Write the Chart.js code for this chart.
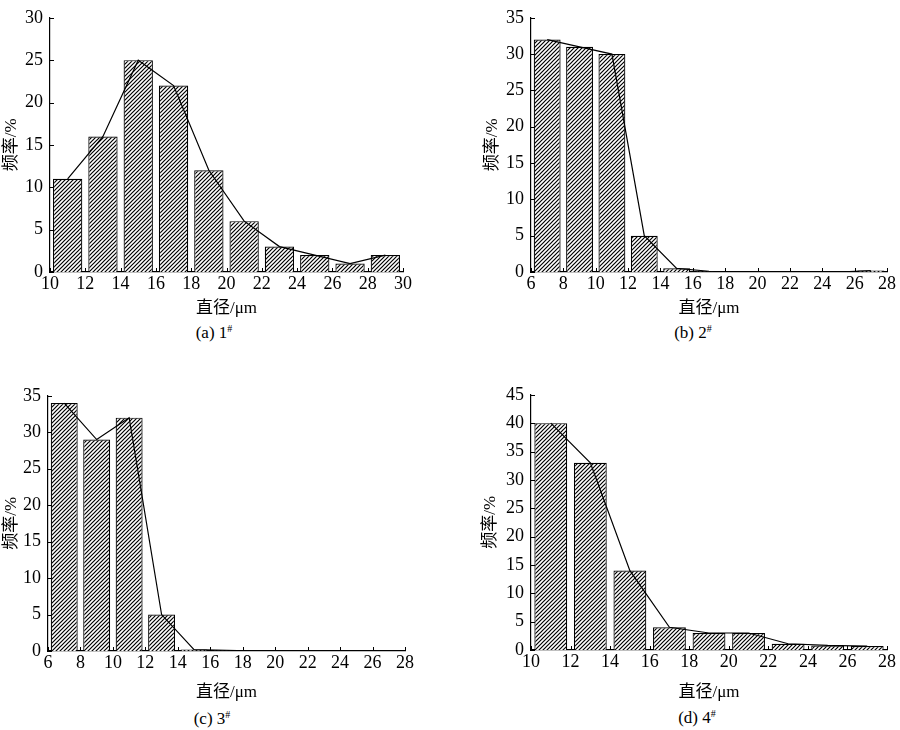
<!DOCTYPE html>
<html>
<head>
<meta charset="utf-8">
<script src="https://cdn.jsdelivr.net/npm/chart.js@4.4.1/dist/chart.umd.min.js"></script>
<style>
  body { margin: 0; width: 900px; height: 730px; overflow: hidden; background: #fff; position: relative; }
  canvas { position: absolute; }
  .cap { position: absolute; font: 17px "Liberation Serif", "Noto Sans CJK SC", serif; color: #000; transform: translate(-50%, -50%); white-space: nowrap; }
  .cap sup { font-size: 10px; vertical-align: 6px; line-height: 0; }
</style>
</head>
<body>
<canvas id="chartA"></canvas>
<canvas id="chartB"></canvas>
<canvas id="chartC"></canvas>
<canvas id="chartD"></canvas>
<div class="cap" style="left:214px; top:333px">(a) 1<sup>#</sup></div>
<div class="cap" style="left:693px; top:333px">(b) 2<sup>#</sup></div>
<div class="cap" style="left:212px; top:719px">(c) 3<sup>#</sup></div>
<div class="cap" style="left:697px; top:718px">(d) 4<sup>#</sup></div>
<script>
// bin centres (μm), frequencies (%), axis ticks
const diamA = [11, 13, 15, 17, 19, 21, 23, 25, 27, 29];
const freqA = [11, 16, 25, 22, 12, 6, 3, 2, 1, 2];
const xTicksA = [10, 12, 14, 16, 18, 20, 22, 24, 26, 28, 30];
const yTicksA = [0, 5, 10, 15, 20, 25, 30];

const diamB = [7, 9, 11, 13, 15, 17, 19, 21, 23, 25, 27];
const freqB = [32, 31, 30, 5, 0.5, 0.1, 0, 0, 0, 0, 0.2];
const xTicksB = [6, 8, 10, 12, 14, 16, 18, 20, 22, 24, 26, 28];
const yTicksB = [0, 5, 10, 15, 20, 25, 30, 35];

const diamC = [7, 9, 11, 13, 15, 17, 19, 21, 23, 25, 27];
const freqC = [34, 29, 32, 5, 0.2, 0.1, 0, 0, 0, 0, 0];
const xTicksC = [6, 8, 10, 12, 14, 16, 18, 20, 22, 24, 26, 28];
const yTicksC = [0, 5, 10, 15, 20, 25, 30, 35];

const diamD = [11, 13, 15, 17, 19, 21, 23, 25, 27];
const freqD = [40, 33, 14, 4, 3, 3, 1.1, 0.8, 0.7];
const xTicksD = [10, 12, 14, 16, 18, 20, 22, 24, 26, 28];
const yTicksD = [0, 5, 10, 15, 20, 25, 30, 35, 40, 45];

Chart.defaults.font.family = '"Liberation Serif", "Noto Sans CJK SC", serif';
Chart.defaults.font.size = 18;
Chart.defaults.color = '#000';

function makeHatch() {
  const tile = document.createElement('canvas');
  tile.width = tile.height = 4;
  const g = tile.getContext('2d');
  g.fillStyle = '#fff';
  g.fillRect(0, 0, 4, 4);
  g.strokeStyle = '#000';
  g.lineWidth = 1.2;
  g.beginPath();
  g.moveTo(0, 4); g.lineTo(4, 0);
  g.moveTo(-1, 1); g.lineTo(1, -1);
  g.moveTo(3, 5); g.lineTo(5, 3);
  g.stroke();
  return g.createPattern(tile, 'repeat');
}
const hatch = makeHatch();

// tick marks pointing into the plot
const innerTicks = {
  id: 'innerTicks',
  afterDraw(chart) {
    const { ctx, chartArea, scales: { x, y } } = chart;
    ctx.save();
    ctx.strokeStyle = '#000';
    ctx.lineWidth = 1;
    ctx.beginPath();
    x.ticks.forEach(t => {
      const px = Math.round(x.getPixelForValue(t.value)) + 0.5;
      ctx.moveTo(px, chartArea.bottom);
      ctx.lineTo(px, chartArea.bottom - 4);
    });
    y.ticks.forEach(t => {
      const py = Math.round(y.getPixelForValue(t.value)) + 0.5;
      ctx.moveTo(chartArea.left, py);
      ctx.lineTo(chartArea.left + 4, py);
    });
    ctx.stroke();
    ctx.restore();
  }
};

function panel(id, box, diam, freq, xTicks, yTicks) {
  const el = document.getElementById(id);
  el.width = box.w;
  el.height = box.h;
  el.style.left = box.left + 'px';
  el.style.top = box.top + 'px';
  const pts = diam.map((d, i) => ({ x: d, y: freq[i] }));
  return new Chart(el, {
    type: 'bar',
    data: {
      datasets: [
        {
          type: 'line',
          data: pts,
          borderColor: '#000',
          borderWidth: 1.2,
          pointRadius: 0,
          tension: 0,
          order: 0,
        },
        {
          data: pts,
          backgroundColor: hatch,
          borderColor: '#000',
          borderWidth: 1.2,
          barPercentage: 0.83,
          categoryPercentage: 1,
          order: 1,
        },
      ],
    },
    options: {
      responsive: false,
      animation: false,
      layout: { padding: { left: 0, top: box.padTop, right: box.padRight, bottom: 1 } },
      plugins: { legend: { display: false }, tooltip: { enabled: false } },
      scales: {
        x: {
          type: 'linear',
          offset: false,
          min: xTicks[0],
          max: xTicks[xTicks.length - 1],
          grid: { display: false, drawTicks: false, offset: false },
          border: { display: true, color: '#000', width: 1.2 },
          afterBuildTicks: s => { s.ticks = xTicks.map(v => ({ value: v })); },
          afterFit: s => { s.height = box.xH; },
          ticks: { padding: 1, maxRotation: 0, autoSkip: false },
          title: { display: true, text: '直径/μm', padding: 0, font: { size: 17 } },
        },
        y: {
          min: yTicks[0],
          max: yTicks[yTicks.length - 1],
          grid: { display: false, drawTicks: false },
          border: { display: true, color: '#000', width: 1.2 },
          afterBuildTicks: s => { s.ticks = yTicks.map(v => ({ value: v })); },
          afterFit: s => { s.width = box.yW; },
          ticks: { padding: 7 },
          title: { display: true, text: '频率/%', padding: 0, font: { size: 17 } },
        },
      },
    },
    plugins: [innerTicks],
  });
}

panel('chartA', { left: 1, top: 0, w: 450, h: 320, padTop: 10, padRight: 48, yW: 49, xH: 47 },
  diamA, freqA, xTicksA, yTicksA);
panel('chartB', { left: 482, top: 0, w: 418, h: 320, padTop: 10, padRight: 13, yW: 49, xH: 47 },
  diamB, freqB, xTicksB, yTicksB);
panel('chartC', { left: 1, top: 378, w: 450, h: 326, padTop: 10, padRight: 46, yW: 47, xH: 52 },
  diamC, freqC, xTicksC, yTicksC);
panel('chartD', { left: 480, top: 377, w: 420, h: 327, padTop: 10, padRight: 13, yW: 51, xH: 53 },
  diamD, freqD, xTicksD, yTicksD);
</script>
</body>
</html>
